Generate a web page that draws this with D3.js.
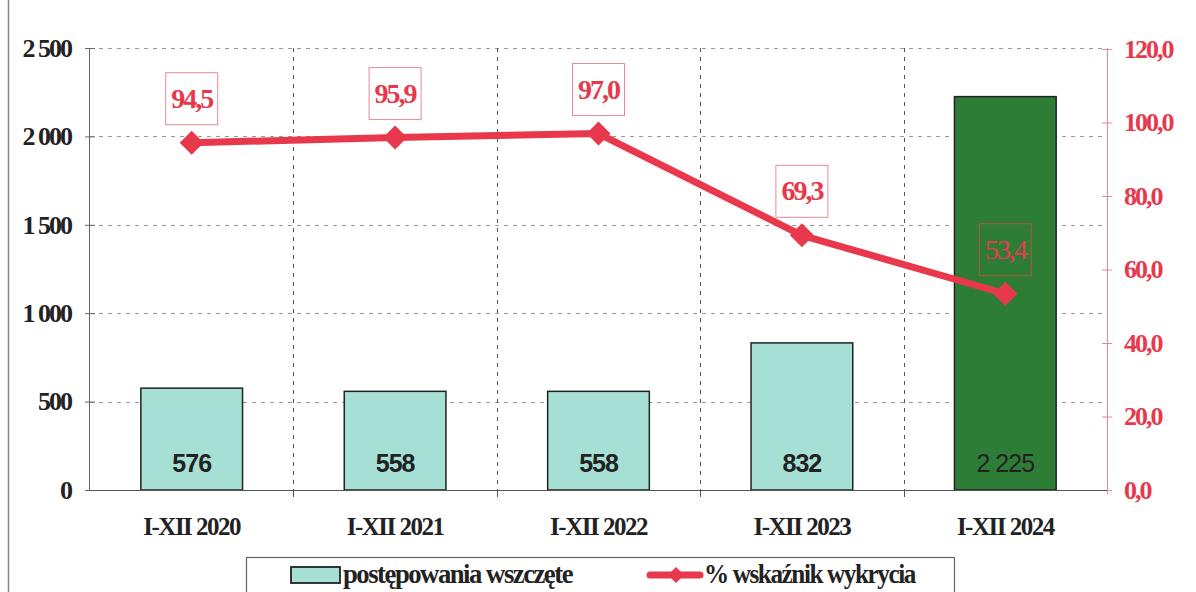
<!DOCTYPE html>
<html><head><meta charset="utf-8">
<script src="https://cdn.jsdelivr.net/npm/d3@7/dist/d3.min.js"></script>
<style>body{margin:0;background:#fff;}svg{display:block;}</style>
</head><body><svg id="c" width="1196" height="592"></svg>
<script>
const categories = ["I-XII 2020","I-XII 2021","I-XII 2022","I-XII 2023","I-XII 2024"];
const cases = [576, 558, 558, 832, 2225];
const caseLabels = ["576","558","558","832","2 225"];
const detection = [94.5, 95.9, 97.0, 69.3, 53.4];
const detectionLabels = ["94,5","95,9","97,0","69,3","53,4"];
const leftTicks = [0, 500, 1000, 1500, 2000, 2500];
const leftTickLabels = ["0","500","1 000","1 500","2 000","2 500"];
const rightTicks = [0, 20, 40, 60, 80, 100, 120];
const rightTickLabels = ["0,0","20,0","40,0","60,0","80,0","100,0","120,0"];
const legendLabels = ["postępowania wszczęte","% wskaźnik wykrycia"];

const svg = d3.select("#c");
const L = 90, R = 1107, T = 48, B = 490;
const serif = "'Liberation Serif','Times New Roman',serif";
const sans = "'Liberation Sans',Arial,sans-serif";
const red = "#e8384c";

const x = d3.scaleBand().domain(categories).range([L, R]).paddingInner(0).paddingOuter(0);
const y = d3.scaleLinear().domain([0, 2500]).range([B, T]);
const y2 = d3.scaleLinear().domain([0, 120]).range([B, T + 1]);

// outer frame
svg.append("line").attr("x1",8.5).attr("x2",8.5).attr("y1",0).attr("y2",592).attr("stroke","#888").attr("stroke-width",1.5);

// horizontal gridlines
svg.append("g").selectAll("line").data(leftTicks.filter(d=>d>0)).join("line")
  .attr("x1", L).attr("x2", R).attr("y1", d=>Math.round(y(d))+0.5).attr("y2", d=>Math.round(y(d))+0.5)
  .attr("stroke","#999").attr("stroke-dasharray","4,5").attr("stroke-width",1);
// vertical gridlines at category boundaries
svg.append("g").selectAll("line").data(categories.slice(1)).join("line")
  .attr("x1", d=>Math.round(x(d))+0.5).attr("x2", d=>Math.round(x(d))+0.5).attr("y1", T).attr("y2", B)
  .attr("stroke","#555").attr("stroke-dasharray","4,5").attr("stroke-width",1);

// bars
const bw = x.bandwidth()*0.5;
svg.append("g").selectAll("rect").data(cases).join("rect")
  .attr("x", (d,i)=>x(categories[i]) + (x.bandwidth()-bw)/2)
  .attr("y", d=>y(d)).attr("width", bw).attr("height", d=>B - y(d))
  .attr("fill", (d,i)=> i===4 ? "#2e7d36" : "#a6e0d4")
  .attr("stroke","#222").attr("stroke-width",1.5);

// bar labels
svg.append("g").selectAll("text").data(caseLabels).join("text")
  .attr("x", (d,i)=>x(categories[i]) + x.bandwidth()/2).attr("y", 472)
  .attr("text-anchor","middle").attr("font-family", sans).attr("font-size", 25)
  .attr("font-weight", (d,i)=> i===4 ? "normal" : "bold").attr("fill","#222")
  .attr("letter-spacing", "-1")
  .text(d=>d);

// axes
const gl = svg.append("g").attr("transform",`translate(${L},0)`)
  .call(d3.axisLeft(y).tickValues(leftTicks).tickFormat((d,i)=>leftTickLabels[i]).tickSize(5).tickPadding(14));
gl.select(".domain").attr("stroke","#666").attr("d", `M-0.5,${T}V${B}`);
gl.selectAll(".tick line").attr("stroke","#666").attr("x1",5);
gl.selectAll(".tick text").attr("font-family", serif).attr("font-size",26).attr("font-weight","bold").attr("fill","#222").attr("letter-spacing","-2");

const gr = svg.append("g").attr("transform",`translate(${R},0)`)
  .call(d3.axisRight(y2).tickValues(rightTicks).tickFormat((d,i)=>rightTickLabels[i]).tickSize(5).tickPadding(12));
gr.select(".domain").attr("stroke","#e88a94").attr("d", `M0.5,${T}V${B+4}`);
gr.selectAll(".tick line").attr("stroke","#e88a94").attr("x1",-5);
gr.selectAll(".tick text").attr("font-family", serif).attr("font-size",26).attr("font-weight","bold").attr("fill", red).attr("letter-spacing","-2");

const gb = svg.append("g").attr("transform",`translate(0,${B})`);
gb.append("line").attr("x1",L).attr("x2",R).attr("y1",0.5).attr("y2",0.5).attr("stroke","#555").attr("stroke-width",1.2);
gb.selectAll("line.t").data(categories.slice(1)).join("line").attr("class","t")
  .attr("x1", d=>Math.round(x(d))+0.5).attr("x2", d=>Math.round(x(d))+0.5).attr("y1",0).attr("y2",7).attr("stroke","#555");
gb.selectAll("text").data(categories).join("text")
  .attr("x", d=>x(d)+x.bandwidth()/2).attr("y", 45).attr("text-anchor","middle")
  .attr("font-family", serif).attr("font-size",25).attr("font-weight","bold").attr("fill","#222").attr("letter-spacing","-1.5")
  .text(d=>d);

// line series
const line = d3.line().x((d,i)=>x(categories[i]) + x.bandwidth()/2).y(d=>y2(d));
svg.append("path").datum(detection).attr("d", line).attr("fill","none").attr("stroke", red).attr("stroke-width",7).attr("stroke-linejoin","round");
svg.append("g").selectAll("path").data(detection).join("path")
  .attr("transform",(d,i)=>`translate(${x(categories[i]) + x.bandwidth()/2},${y2(d)}) rotate(45)`)
  .attr("d", d3.symbol(d3.symbolSquare, 290)()).attr("fill", red);

// line labels
const lbl = svg.append("g").selectAll("g").data(detectionLabels).join("g")
  .attr("transform",(d,i)=>`translate(${x(categories[i]) + x.bandwidth()/2},${y2(detection[i]) - 44})`);
lbl.append("rect").attr("x",-26).attr("y",-26).attr("width",52).attr("height",52)
  .attr("fill",(d,i)=> i===4 ? "none" : "#fff").attr("stroke",(d,i)=> i===4 ? "#b05a3c" : "#e88a94").attr("stroke-width",1);
lbl.append("text").attr("text-anchor","middle").attr("y",9)
  .attr("font-family", serif).attr("font-size",28).attr("font-weight",(d,i)=> i===4 ? "normal" : "bold")
  .attr("fill", red).attr("letter-spacing","-2").text(d=>d);

// legend
const lg = svg.append("g");
lg.append("rect").attr("x",246.5).attr("y",557.5).attr("width",708).attr("height",50).attr("fill","#fff").attr("stroke","#666").attr("stroke-width",1.2);
lg.append("rect").attr("x",291).attr("y",567).attr("width",49).attr("height",16).attr("fill","#a6e0d4").attr("stroke","#222").attr("stroke-width",1.8);
lg.append("text").attr("x",343).attr("y",583).attr("font-family",serif).attr("font-size",27).attr("font-weight","bold").attr("fill","#222")
  .attr("letter-spacing","-1.5").attr("textLength",229).attr("lengthAdjust","spacingAndGlyphs").text(legendLabels[0]);
lg.append("line").attr("x1",650).attr("x2",700).attr("y1",575).attr("y2",575).attr("stroke",red).attr("stroke-width",7).attr("stroke-linecap","round");
lg.append("path").attr("transform","translate(676,575) rotate(45)").attr("d", d3.symbol(d3.symbolSquare, 130)()).attr("fill",red);
lg.append("text").attr("x",704).attr("y",583).attr("font-family",serif).attr("font-size",27).attr("font-weight","bold").attr("fill","#222")
  .attr("letter-spacing","-1.5").attr("textLength",211).attr("lengthAdjust","spacingAndGlyphs").text(legendLabels[1]);
</script></body></html>
